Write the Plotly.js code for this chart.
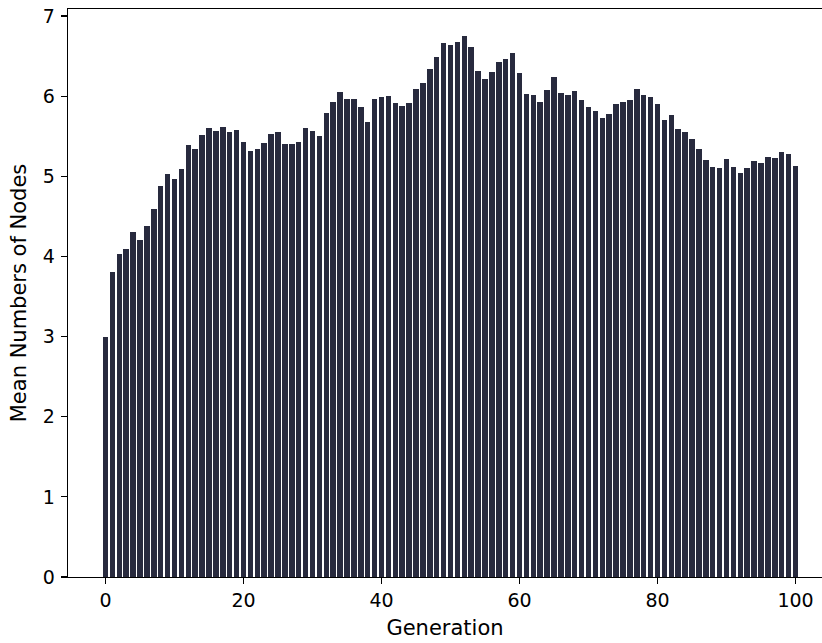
<!DOCTYPE html>
<html>
<head>
<meta charset="utf-8">
<script src="https://cdn.plot.ly/plotly-3.0.1.min.js"></script>
<style>html,body{margin:0;padding:0;background:#fff;}</style>
</head>
<body>
<div id="chart" style="width:822px;height:643px;"></div>
<script>
const generations = Array.from({length: 101}, (_, i) => i);
const meanNodes = [
  3.00, 3.81, 4.03, 4.09, 4.31, 4.21, 4.38, 4.59, 4.88, 5.03,
  4.97, 5.09, 5.39, 5.34, 5.52, 5.60, 5.57, 5.62, 5.55, 5.58,
  5.43, 5.32, 5.34, 5.42, 5.53, 5.55, 5.40, 5.40, 5.43, 5.60,
  5.57, 5.50, 5.79, 5.93, 6.05, 5.96, 5.96, 5.87, 5.68, 5.97,
  5.99, 6.00, 5.92, 5.88, 5.92, 6.09, 6.17, 6.34, 6.49, 6.66,
  6.64, 6.68, 6.75, 6.61, 6.31, 6.21, 6.30, 6.43, 6.46, 6.54,
  6.29, 6.03, 6.02, 5.93, 6.08, 6.24, 6.04, 6.02, 6.07, 5.95,
  5.87, 5.82, 5.73, 5.78, 5.90, 5.93, 5.95, 6.09, 6.02, 5.99,
  5.90, 5.70, 5.77, 5.59, 5.55, 5.47, 5.34, 5.20, 5.12, 5.10,
  5.22, 5.12, 5.04, 5.10, 5.19, 5.17, 5.24, 5.23, 5.30, 5.28,
  5.13
];
const xTicks = [0, 20, 40, 60, 80, 100];
const yTicks = [0, 1, 2, 3, 4, 5, 6, 7];

const trace = {
  type: 'bar',
  x: generations,
  y: meanNodes,
  width: 0.8,
  marker: {color: 'rgb(40,42,62)', line: {width: 0}},
  hoverinfo: 'x+y'
};

const tickFont = {family: 'DejaVu Sans', size: 19, color: '#000'};
const titleFont = {family: 'DejaVu Sans', size: 21, color: '#000'};
const layout = {
  width: 822,
  height: 643,
  margin: {l: 68, r: 0, t: 9, b: 66, pad: 0},
  paper_bgcolor: '#fff',
  plot_bgcolor: '#fff',
  showlegend: false,
  font: tickFont,
  bargap: 0,
  xaxis: {
    range: [-5.44, 103.84],
    tickvals: xTicks,
    ticktext: xTicks.map(String),
    ticks: 'outside', ticklen: 6, tickwidth: 1.2, tickcolor: '#000',
    showline: true, linecolor: '#000', linewidth: 1.3, mirror: true,
    showgrid: false, zeroline: false,
    tickfont: tickFont,
    title: {text: 'Generation', font: titleFont, standoff: 10}
  },
  yaxis: {
    range: [0, 7.0875],
    tickvals: yTicks,
    ticktext: yTicks.map(String),
    ticks: 'outside', ticklen: 6, tickwidth: 1.2, tickcolor: '#000',
    showline: true, linecolor: '#000', linewidth: 1.3, mirror: false,
    showgrid: false, zeroline: false,
    tickfont: tickFont,
    ticklabelstandoff: 2,
    title: {text: 'Mean Numbers of Nodes', font: titleFont, standoff: 10}
  }
};

Plotly.newPlot('chart', [trace], layout, {displayModeBar: false, staticPlot: true});
</script>
</body>
</html>
